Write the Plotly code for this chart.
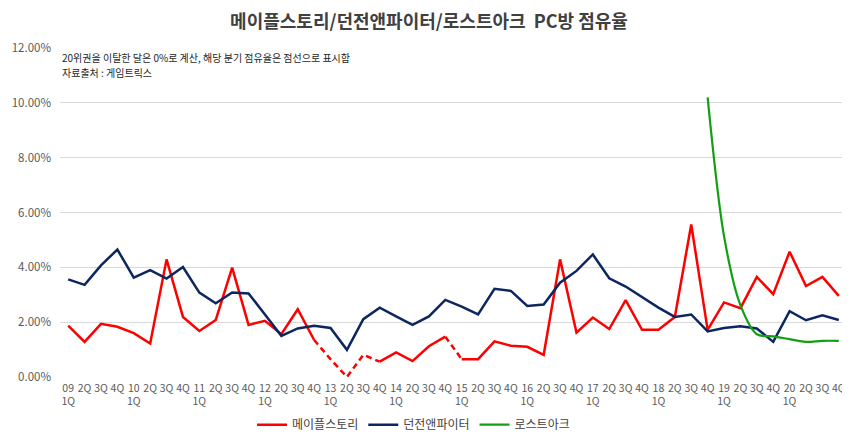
import plotly.graph_objects as go

quarters = [
    "09<br>1Q", "2Q", "3Q", "4Q", "10<br>1Q", "2Q", "3Q", "4Q",
    "11<br>1Q", "2Q", "3Q", "4Q", "12<br>1Q", "2Q", "3Q", "4Q",
    "13<br>1Q", "2Q", "3Q", "4Q", "14<br>1Q", "2Q", "3Q", "4Q",
    "15<br>1Q", "2Q", "3Q", "4Q", "16<br>1Q", "2Q", "3Q", "4Q",
    "17<br>1Q", "2Q", "3Q", "4Q", "18<br>1Q", "2Q", "3Q", "4Q",
    "19<br>1Q", "2Q", "3Q", "4Q", "20<br>1Q", "2Q", "3Q", "4Q",
]

# 점유율 (%)
maple = [
    1.87, 1.28, 1.94, 1.83, 1.60, 1.22, 4.29, 2.19,
    1.68, 2.08, 3.99, 1.90, 2.05, 1.56, 2.47, 1.35,
    0.65, 0.00, 0.81, 0.56, 0.90, 0.58, 1.12, 1.47,
    0.65, 0.65, 1.30, 1.14, 1.10, 0.81, 4.29, 1.62,
    2.17, 1.75, 2.80, 1.72, 1.72, 2.19, 5.56, 1.72,
    2.72, 2.51, 3.65, 3.02, 4.57, 3.32, 3.65, 2.96,
]
dnf = [
    3.56, 3.36, 4.07, 4.65, 3.62, 3.90, 3.59, 4.01,
    3.08, 2.69, 3.08, 3.05, 2.28, 1.50, 1.77, 1.87,
    1.79, 0.99, 2.11, 2.53, 2.21, 1.90, 2.21, 2.81,
    2.57, 2.28, 3.22, 3.14, 2.59, 2.64, 3.44, 3.87,
    4.47, 3.60, 3.30, 2.90, 2.53, 2.19, 2.28, 1.66,
    1.79, 1.85, 1.77, 1.28, 2.40, 2.07, 2.25, 2.08,
]
lostark_start = 39  # 18 4Q
lostark = [10.2, 5.14, 2.62, 1.56, 1.48, 1.38, 1.28, 1.32, 1.32]

# 20위권 이탈 구간 (점선)
maple_dashed = [(15, 19), (23, 24)]

notes = ["20위권을 이탈한 달은 0%로 계산, 해당 분기 점유율은 점선으로 표시함", "자료출처 : 게임트릭스"]

RED = "#FF0000"
NAVY = "#0C2660"
GREEN = "#12A012"
FONT = "Noto Sans CJK KR"


def split_segments(values, dashed_ranges):
    dashed_edges = set()
    for a, b in dashed_ranges:
        dashed_edges.update(range(a, b))
    solid = ([], [])
    dash = ([], [])
    for i in range(len(values) - 1):
        xs, ys = dash if i in dashed_edges else solid
        if xs and xs[-1] == i:
            xs.append(i + 1)
            ys.append(values[i + 1])
        else:
            if xs:
                xs.append(i)
                ys.append(None)
            xs.extend([i, i + 1])
            ys.extend([values[i], values[i + 1]])
    return solid, dash


(sx, sy), (dx, dy) = split_segments(maple, maple_dashed)

fig = go.Figure()
fig.add_trace(go.Scatter(x=sx, y=sy, mode="lines", name="메이플스토리",
                         line=dict(color=RED, width=2.5), connectgaps=False))
fig.add_trace(go.Scatter(x=dx, y=dy, mode="lines", showlegend=False,
                         line=dict(color=RED, width=2.5, dash="6px,4px"), connectgaps=False))
fig.add_trace(go.Scatter(x=list(range(len(dnf))), y=dnf, mode="lines", name="던전앤파이터",
                         line=dict(color=NAVY, width=2.5)))
fig.add_trace(go.Scatter(x=list(range(lostark_start, lostark_start + len(lostark))), y=lostark,
                         mode="lines", name="로스트아크",
                         line=dict(color=GREEN, width=2.2, shape="spline", smoothing=0.9)))

fig.update_xaxes(
    range=[-0.5, len(quarters) - 0.5], automargin=False,
    tickmode="array", tickvals=list(range(len(quarters))), ticktext=quarters,
    tickangle=0, tickfont=dict(size=10.5, color="#595959"), ticklabelstandoff=3,
    showgrid=False, zeroline=False, showline=False, ticks="",
)
fig.update_yaxes(
    range=[0, 12], dtick=2, tickformat=".2f", ticksuffix="%", automargin=False,
    tickfont=dict(size=11.5, color="#595959"), ticklabelstandoff=8,
    gridcolor="#D9D9D9", gridwidth=1, zeroline=False, showline=False,
)

# 페이지 body 여백(8px)을 감안한 크기
fig.update_layout(
    width=842, height=434,
    margin=dict(l=52, r=3, t=40, b=56),
    plot_bgcolor="white", paper_bgcolor="white",
    font=dict(family=FONT, color="#404040"),
    title=dict(text="<b>메이플스토리/던전앤파이터/로스트아크\u00a0\u00a0PC방 점유율</b>",
               x=0.5, xanchor="center", y=0.968, yanchor="middle",
               font=dict(size=18, color="#404040")),
    legend=dict(orientation="h", x=0.244, xanchor="left", y=-0.145, yanchor="middle",
                font=dict(size=12, color="#404040"), itemwidth=30),
    showlegend=True,
)

for text, ypos in zip(notes, [0.970, 0.927]):
    fig.add_annotation(
        text=text, xref="paper", yref="paper", x=0.0, y=ypos,
        xanchor="left", yanchor="middle", showarrow=False,
        font=dict(size=10, color="#262626"),
    )

fig.write_html("out.html")
